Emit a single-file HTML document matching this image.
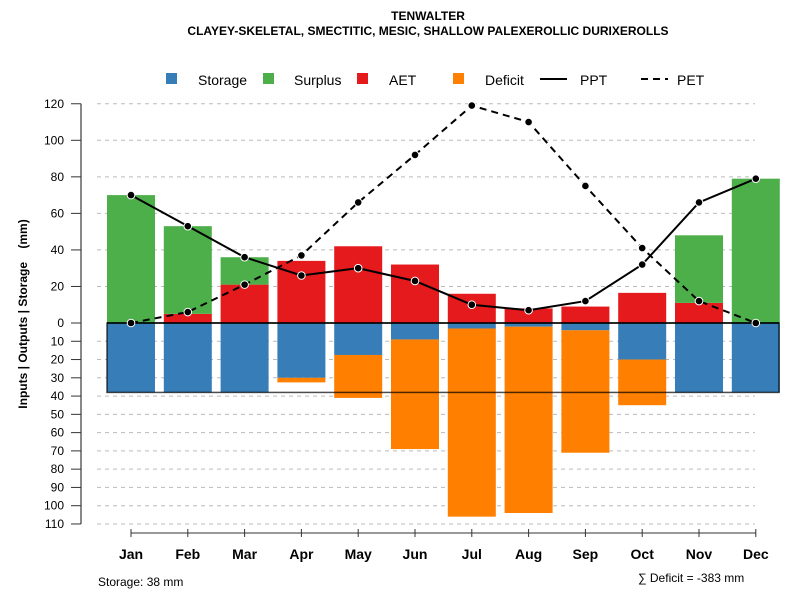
<!DOCTYPE html>
<html><head><meta charset="utf-8"><style>
body{margin:0;background:#fff}
svg text{font-family:"Liberation Sans",sans-serif}
</style></head><body>
<svg id="c" width="800" height="600" xmlns="http://www.w3.org/2000/svg">
<text x="428" y="20" text-anchor="middle" font-size="12" font-weight="bold">TENWALTER</text>
<text x="428" y="35" text-anchor="middle" font-size="12" font-weight="bold">CLAYEY-SKELETAL, SMECTITIC, MESIC, SHALLOW PALEXEROLLIC DURIXEROLLS</text>
<g id="legend">
<rect x="166" y="73" width="11" height="11" fill="#377EB8"/>
<text x="198" y="85" font-size="14">Storage</text>
<rect x="263" y="73" width="11" height="11" fill="#4DAF4A"/>
<text x="294" y="85" font-size="14">Surplus</text>
<rect x="357" y="73" width="11" height="11" fill="#E41A1C"/>
<text x="389" y="85" font-size="14">AET</text>
<rect x="453" y="73" width="11" height="11" fill="#FF7F00"/>
<text x="485" y="85" font-size="14">Deficit</text>
<line x1="540" y1="79" x2="567" y2="79" stroke="#000" stroke-width="2"/>
<text x="580" y="85" font-size="14">PPT</text>
<line x1="641" y1="79" x2="668" y2="79" stroke="#000" stroke-width="2" stroke-dasharray="7,5"/>
<text x="677" y="85" font-size="14">PET</text>
</g>
<text transform="translate(27,314) rotate(-90)" text-anchor="middle" font-size="12" font-weight="bold" style="white-space:pre" xml:space="preserve">Inputs | Outputs | Storage    (mm)</text>
<text x="98" y="586" font-size="12">Storage: 38 mm</text>
<text x="638" y="582" font-size="12">∑ Deficit = -383 mm</text>
<g id="g"></g>
</svg>
<script>
const months=["Jan","Feb","Mar","Apr","May","Jun","Jul","Aug","Sep","Oct","Nov","Dec"];
const storage=[38,38,38,30,17.5,9,3,2,4,20,38,38];
const deficit=[0,0,0,2.5,23.5,60,103,102,67,25,0,0];
const aet=[0,5,21,34,42,32,16,8,9,16.5,11,0];
const surplus=[70,48,15,0,0,0,0,0,0,0,37,79];
const ppt=[70,53,36,26,30,23,10,7,12,32,66,79];
const pet=[0,6,21,37,66,92,119,110,75,41,12,0];
const posTicks=[0,20,40,60,80,100,120];
const negTicks=[10,20,30,40,50,60,70,80,90,100,110];
const capacity=38;
const NS="http://www.w3.org/2000/svg";
const g=document.getElementById('g');
const y0=323,k=1.827;
const yPos=v=>y0-v*k, yNeg=v=>y0+v*k;
const xC=i=>131+i*56.8;
function mk(t,a,p){const e=document.createElementNS(NS,t);for(const q in a)e.setAttribute(q,a[q]);(p||g).appendChild(e);return e;}
mk('line',{x1:81,y1:yPos(120),x2:81,y2:yNeg(110),stroke:'#888','stroke-width':2});
posTicks.forEach(v=>{const y=yPos(v);
 if(v>0){const l=mk('line',{x1:97,y1:y,x2:755,y2:y,stroke:'#bbb','stroke-dasharray':'4,4'});
 
 }
 mk('line',{x1:71,y1:y,x2:81,y2:y,stroke:'#333'});
 const t=mk('text',{x:64,y:y+4,'text-anchor':'end','font-size':12});t.textContent=v;
 
 });
negTicks.forEach(v=>{const y=yNeg(v);
 const l=mk('line',{x1:97,y1:y,x2:755,y2:y,stroke:'#bbb','stroke-dasharray':'4,4'});
 
 
 mk('line',{x1:71,y1:y,x2:81,y2:y,stroke:'#333'});
 const t=mk('text',{x:64,y:y+4,'text-anchor':'end','font-size':12});t.textContent=v;
 
 });
const w=48;
months.forEach((m,i)=>{const x=xC(i)-w/2;
 let r=mk('rect',{x:x,y:y0,width:w,height:storage[i]*k,fill:'#377EB8'});
 
 
 if(deficit[i]>0){r=mk('rect',{x:x,y:yNeg(storage[i]),width:w,height:deficit[i]*k,fill:'#FF7F00'});
 
 }
 if(aet[i]>0){r=mk('rect',{x:x,y:yPos(aet[i]),width:w,height:aet[i]*k,fill:'#E41A1C'});
 
 }
 if(surplus[i]>0){r=mk('rect',{x:x,y:yPos(aet[i]+surplus[i]),width:w,height:surplus[i]*k,fill:'#4DAF4A'});
 
 }
 mk('line',{x1:xC(i),y1:yNeg(110)+5,x2:xC(i),y2:yNeg(110)+13,stroke:'#333'});
 const t=mk('text',{x:xC(i),y:559,'text-anchor':'middle','font-size':14,'font-weight':'bold'});t.textContent=m;
 
 });
mk('line',{x1:xC(0),y1:yNeg(110)+9,x2:xC(11),y2:yNeg(110)+9,stroke:'#333'});
const box=mk('rect',{x:107,y:y0,width:672,height:capacity*k,fill:'none',stroke:'rgba(0,0,0,0.7)','stroke-width':1.5});


mk('line',{x1:107,y1:y0,x2:779,y2:y0,stroke:'#000','stroke-width':1.5});
function series(arr,dash,name){
 const p=mk('polyline',{points:arr.map((v,i)=>xC(i)+','+yPos(v)).join(' '),fill:'none',stroke:'#000','stroke-width':2,'stroke-dasharray':dash});
 
 
 arr.forEach((v,i)=>{const c=mk('circle',{cx:xC(i),cy:yPos(v),r:3.8,fill:'#000',stroke:'#fff','stroke-width':1});
 
 });
}
series(pet,'7,5','pet');
series(ppt,'none','ppt');
</script>
</body></html>
